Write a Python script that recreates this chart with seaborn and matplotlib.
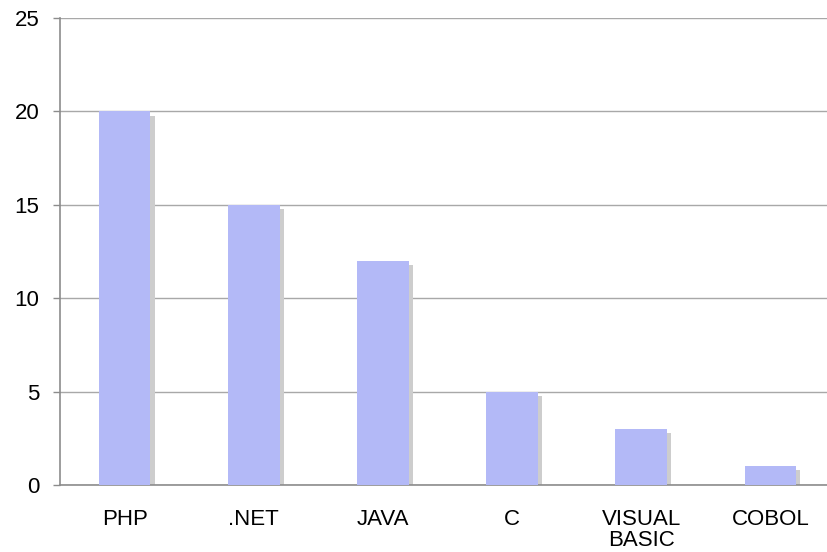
import matplotlib
matplotlib.use("Agg")
import matplotlib.pyplot as plt
import matplotlib.transforms as mtransforms
import seaborn as sns
import pandas as pd

languages = ["PHP", ".NET", "JAVA", "C", "VISUAL\nBASIC", "COBOL"]
counts = [20, 15, 12, 5, 3, 1]
y_ticks = [0, 5, 10, 15, 20, 25]

sns.set_theme(style="white")
plt.rcParams["font.family"] = ["Liberation Sans", "DejaVu Sans"]

df = pd.DataFrame({"lang": languages, "count": counts})

fig = plt.figure(figsize=(8.28, 5.52), dpi=100)
ax = fig.add_axes([60 / 828, 1 - 485 / 552, 775 / 828, 467 / 552])

# shadow bars, shifted a few points right and down
sns.barplot(data=df, x="lang", y="count", color="#cdcdcd", saturation=1,
            width=0.4, ax=ax, zorder=2, linewidth=0)
shift = mtransforms.offset_copy(ax.transData, fig, x=3, y=-3, units="points")
for p in ax.patches:
    p.set_transform(shift)

sns.barplot(data=df, x="lang", y="count", color="#b3b9f7", saturation=1,
            width=0.4, ax=ax, zorder=3, linewidth=0)

ax.set_ylim(0, 25)
ax.set_xlim(-0.5, len(languages) - 0.5)
ax.set_yticks(y_ticks)
ax.yaxis.grid(True, color="#a8a8a8", linewidth=1)
ax.set_axisbelow(True)
ax.set_xlabel("")
ax.set_ylabel("")

for side in ["top", "right"]:
    ax.spines[side].set_visible(False)
for side in ["left", "bottom"]:
    ax.spines[side].set_color("#8c8c8c")
    ax.spines[side].set_linewidth(1.2)

ax.set_xticks([i + 0.5 for i in range(len(languages) - 1)], minor=True)
ax.tick_params(axis="x", which="major", length=0, pad=17, labelsize=16, colors="black")
ax.tick_params(axis="x", which="minor", length=6, width=1, color="#8c8c8c", direction="out")
ax.tick_params(axis="y", length=5, width=1, color="#8c8c8c", pad=10, labelsize=16,
               direction="out", left=True, labelcolor="black")
for lbl in ax.get_xticklabels():
    lbl.set_linespacing(1.0)

fig.savefig("out.png", dpi=100)
